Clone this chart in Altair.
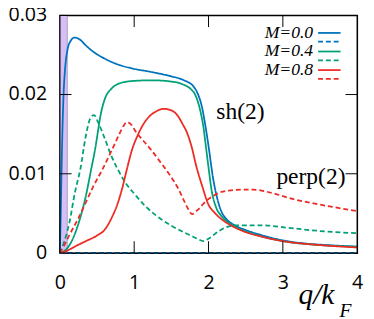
import altair as alt
import pandas as pd

# ---------------- data ----------------
b_sh_x = [0, 0.01, 0.02, 0.035, 0.05, 0.07, 0.1, 0.14, 0.2, 0.26, 0.35, 0.45, 0.57, 0.75, 0.97, 1.2, 1.36, 1.5, 1.67, 1.8, 1.86, 1.91, 1.95, 2.0, 2.06, 2.12, 2.17, 2.25, 2.35, 2.5, 2.7, 3.0, 3.3, 3.6, 4.0]
b_sh_y = [0, 0.004, 0.009, 0.0155, 0.0200, 0.0232, 0.0255, 0.0267, 0.0272, 0.0270, 0.0262, 0.0254, 0.0247, 0.0239, 0.0233, 0.0229, 0.0226, 0.0223, 0.0218, 0.0210, 0.0200, 0.0185, 0.0165, 0.0135, 0.0095, 0.0068, 0.0053, 0.0042, 0.0035, 0.0029, 0.0023, 0.0016, 0.0012, 0.0010, 0.0008]

b_pp_x = [0, 4]
b_pp_y = [0, 0]

g_sh_x = [0, 0.1, 0.18, 0.26, 0.35, 0.42, 0.48, 0.51, 0.55, 0.6, 0.7, 0.8, 0.97, 1.23, 1.53, 1.65, 1.76, 1.82, 1.86, 1.9, 1.93, 1.96, 2.0, 2.04, 2.1, 2.17, 2.26, 2.4, 2.6, 3.0, 3.5, 4.0]
g_sh_y = [0, 0.0006, 0.0019, 0.004, 0.0072, 0.0105, 0.0134, 0.0152, 0.0175, 0.0193, 0.0208, 0.0214, 0.0217, 0.0218, 0.0216, 0.0213, 0.0207, 0.0200, 0.0190, 0.0175, 0.0160, 0.0138, 0.0108, 0.0080, 0.0058, 0.0047, 0.0039, 0.0031, 0.0024, 0.0015, 0.0010, 0.0008]

g_pp_x = [0, 0.05, 0.13, 0.2, 0.28, 0.35, 0.41, 0.46, 0.51, 0.59, 0.7, 0.8, 0.88, 1.0, 1.14, 1.3, 1.49, 1.65, 1.76, 1.85, 1.93, 2.0, 2.13, 2.25, 2.4, 2.7, 3.14, 3.6, 4.0]
g_pp_y = [0, 0.0012, 0.0039, 0.0075, 0.0108, 0.0148, 0.0170, 0.0174, 0.0166, 0.0148, 0.0121, 0.0102, 0.0089, 0.0075, 0.0060, 0.0047, 0.0035, 0.0027, 0.0022, 0.0018, 0.0015, 0.0018, 0.0027, 0.0033, 0.0035, 0.0035, 0.0031, 0.0027, 0.0025]

r_sh_x = [0, 0.1, 0.2, 0.35, 0.5, 0.6, 0.7, 0.78, 0.84, 0.9, 0.97, 1.05, 1.12, 1.19, 1.3, 1.4, 1.5, 1.58, 1.65, 1.71, 1.77, 1.84, 1.91, 2.0, 2.08, 2.17, 2.3, 2.48, 2.7, 3.0, 3.5, 4.0]
r_sh_y = [0, 0.0003, 0.0008, 0.0015, 0.0022, 0.0029, 0.0045, 0.0063, 0.0082, 0.0105, 0.0130, 0.0149, 0.0162, 0.0171, 0.0179, 0.0182, 0.0180, 0.0174, 0.0163, 0.0152, 0.0135, 0.0108, 0.0086, 0.0061, 0.0051, 0.0043, 0.0035, 0.0027, 0.0021, 0.0015, 0.0010, 0.0007]

r_pp_x = [0, 0.05, 0.13, 0.25, 0.35, 0.45, 0.57, 0.68, 0.79, 0.86, 0.9, 0.95, 1.03, 1.12, 1.23, 1.35, 1.49, 1.6, 1.67, 1.73, 1.78, 1.85, 1.93, 2.0, 2.08, 2.17, 2.3, 2.44, 2.6, 2.8, 3.14, 3.5, 4.0]
r_pp_y = [0, 0.0008, 0.0023, 0.0044, 0.0064, 0.0084, 0.0105, 0.0126, 0.0148, 0.0161, 0.0165, 0.0163, 0.0152, 0.0142, 0.0130, 0.0115, 0.0097, 0.0080, 0.0066, 0.0055, 0.0049, 0.0054, 0.0062, 0.0068, 0.0073, 0.0077, 0.0079, 0.0080, 0.0080, 0.0077, 0.0068, 0.0061, 0.0053]

M_values = ["0.0", "0.4", "0.8"]
colors = ["#0072bd", "#00a077", "#ee2a24"]
legend_labels = ["M=0.0", "M=0.4", "M=0.8"]

band_start = [0.0]
band_end = [0.1]

x_ticks = [0, 1, 2, 3, 4]
y_ticks = [0, 0.01, 0.02, 0.03]
y_tick_labels = ["0", "0.01", "0.02", "0.03"]
inner_x_ticks = [1, 2, 3]
inner_y_ticks = [0.01, 0.02]

# ---------------- build table ----------------
series = [
    ("0.0", "sh", b_sh_x, b_sh_y),
    ("0.0", "perp", b_pp_x, b_pp_y),
    ("0.4", "sh", g_sh_x, g_sh_y),
    ("0.4", "perp", g_pp_x, g_pp_y),
    ("0.8", "sh", r_sh_x, r_sh_y),
    ("0.8", "perp", r_pp_x, r_pp_y),
]
rows = []
for m, kind, xs, ys in series:
    for i, (xv, yv) in enumerate(zip(xs, ys)):
        rows.append({"M": m, "kind": kind, "series": m + kind, "x": xv, "y": yv, "i": i})
df = pd.DataFrame(rows)

W, H = 304, 243
SERIF = "Liberation Serif"
SANS = "Open Sans"

xscale = alt.Scale(domain=[0, 4], nice=False, zero=False)
yscale = alt.Scale(domain=[0, 0.03], nice=False, zero=False)

band = alt.Chart(pd.DataFrame({"a": band_start, "b": band_end})).mark_rect(
    color="#d6bff7", stroke="#9c8ab6", strokeWidth=0.8
).encode(
    x=alt.X("a:Q", scale=xscale, axis=alt.Axis(values=x_ticks, format="d", ticks=False, domain=False,
                                                grid=False, labelFont=SANS, labelFontSize=20,
                                                labelColor="black", labelPadding=20, title=None,
                                                labelFlush=False)),
    x2="b:Q",
    y=alt.value(0),
    y2=alt.value(H),
)

lines = alt.Chart(df).mark_line(strokeWidth=1.8, interpolate="monotone").encode(
    x=alt.X("x:Q", scale=xscale),
    y=alt.Y("y:Q", scale=yscale, axis=None),
    color=alt.Color("M:N", scale=alt.Scale(domain=M_values, range=colors), legend=None),
    strokeDash=alt.StrokeDash("kind:N", scale=alt.Scale(domain=["sh", "perp"], range=[[1, 0], [5, 3]]), legend=None),
    detail="series:N",
    order="i:Q",
)

# y tick labels drawn as text through the y scale
ylab = alt.Chart(pd.DataFrame({"v": y_ticks, "lab": y_tick_labels})).mark_text(
    font=SANS, fontSize=20, align="right", baseline="middle", color="black"
).encode(y=alt.Y("v:Q", scale=yscale, axis=None), x=alt.value(-13), text="lab:N")

xt = pd.DataFrame({"v": inner_x_ticks})
yt = pd.DataFrame({"w": inner_y_ticks})
tick_bottom = alt.Chart(xt).mark_rule(color="black", strokeWidth=1).encode(
    x=alt.X("v:Q", scale=xscale), y=alt.value(H), y2=alt.value(H - 12))
tick_top = alt.Chart(xt).mark_rule(color="black", strokeWidth=1).encode(
    x=alt.X("v:Q", scale=xscale), y=alt.value(0), y2=alt.value(12))
tick_left = alt.Chart(yt).mark_rule(color="black", strokeWidth=1).encode(
    y=alt.Y("w:Q", scale=yscale, axis=None), x=alt.value(0), x2=alt.value(12))
tick_right = alt.Chart(yt).mark_rule(color="black", strokeWidth=1).encode(
    y=alt.Y("w:Q", scale=yscale, axis=None), x=alt.value(W), x2=alt.value(W - 12))

frame = alt.Chart(pd.DataFrame({"f": [0]})).mark_rect(
    fillOpacity=0, stroke="black", strokeWidth=1.2
).encode(x=alt.value(0), x2=alt.value(W), y=alt.value(0), y2=alt.value(H))

layers = [band, lines, tick_bottom, tick_top, tick_left, tick_right, frame, ylab]

# legend
for k, (lab, col) in enumerate(zip(legend_labels, colors)):
    ly = 18 + 19 * k
    one = pd.DataFrame({"t": [lab]})
    layers.append(alt.Chart(one).mark_text(font=SERIF, fontStyle="italic", fontSize=18, align="right",
                                            baseline="middle", color="black").encode(
        text="t:N", x=alt.value(259), y=alt.value(ly)))
    layers.append(alt.Chart(one).mark_rule(color=col, strokeWidth=1.8).encode(
        x=alt.value(264), x2=alt.value(287), y=alt.value(ly)))
    layers.append(alt.Chart(one).mark_rule(color=col, strokeWidth=1.8, strokeDash=[5, 3]).encode(
        x=alt.value(264), x2=alt.value(287), y=alt.value(ly + 9)))

# annotations
def label(txt, x, y, size, align="left", style="normal"):
    return alt.Chart(pd.DataFrame({"t": [txt]})).mark_text(
        font=SERIF, fontSize=size, align=align, baseline="alphabetic", color="black", fontStyle=style
    ).encode(text="t:N", x=alt.value(x), y=alt.value(y))

layers.append(label("sh(2)", 160, 106, 24))
layers.append(label("perp(2)", 292, 172, 24, align="right"))
layers.append(label("q/k", 244, 295, 30, style="italic"))
layers.append(label("F", 286, 308, 20, style="italic"))

chart = alt.layer(*layers).properties(
    width=W, height=H,
    autosize=alt.AutoSizeParams(type="none"),
    padding={"left": 53, "top": 4, "right": 9, "bottom": 64},
).configure(background="white").configure_view(stroke="black", strokeWidth=1.2)

chart.save("out.html", embed_options={"renderer": "svg", "actions": False})
